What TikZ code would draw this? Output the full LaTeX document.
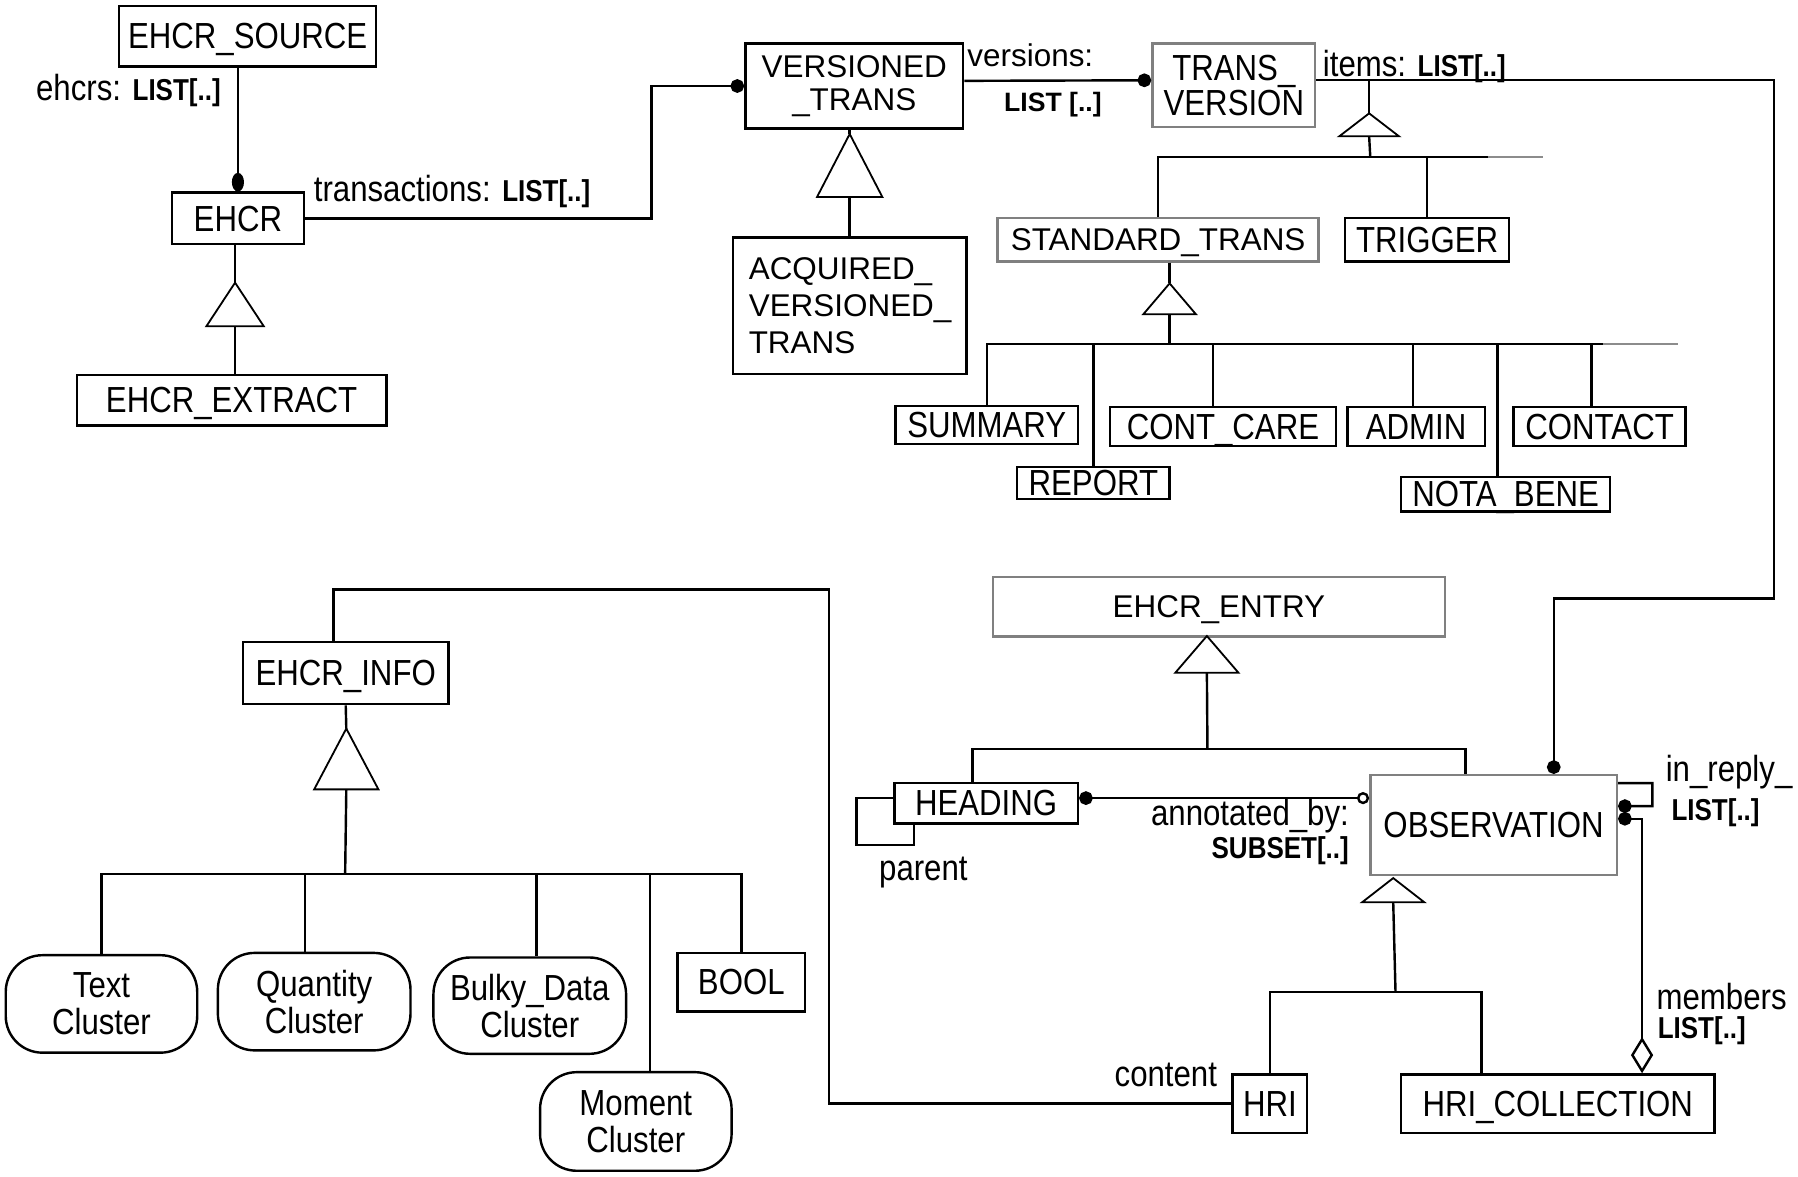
\documentclass[tikz,border=0pt]{standalone}
\usepackage{fontspec}
\setmainfont{Liberation Sans}
\newfontfamily\nf{Liberation Sans}[FakeStretch=0.86]
\usetikzlibrary{arrows.meta,shapes.geometric}

\tikzset{
  cls/.style={draw, line width=0.6pt, inner sep=0pt, align=center,
    font=\nf\fontsize{9}{9.2}\selectfont},
  flat/.style={text depth=0pt},
  pale/.style={cls, draw=black!50},
  wide/.style={font=\rmfamily\fontsize{7.8}{8.3}\selectfont},
  clus/.style={cls, rounded corners=3.2mm},
  gen/.style={draw, isosceles triangle, isosceles triangle stretches,
    shape border rotate=90, inner sep=0pt, outer sep=0pt, line width=0.45pt},
  lbl/.style={inner sep=0pt, font=\nf\fontsize{9}{10}\selectfont},
  conn/.style={line width=0.6pt},
  dot/.style={-{Circle[length=3.4pt]}}
}
\newcommand{\mult}[1]{{\bfseries\fontsize{7.5}{8}\selectfont #1}}

\begin{document}
\begin{tikzpicture}[x=0.1mm, y=-0.1mm]
  \useasboundingbox (0,0) rectangle (1568,1026);

  % record and transactions
  \node[cls, flat, minimum width=22.4mm, minimum height=5.3mm] (src) at (216,31.5) {EHCR\_SOURCE};
  \node[cls, flat, minimum width=11.5mm, minimum height=4.5mm] (ehcr) at (207.5,190.5) {EHCR};
  \node[cls, flat, minimum width=27mm, minimum height=4.4mm] (extract) at (202,349) {EHCR\_EXTRACT};
  \node[gen, minimum width=5mm, minimum height=3.8mm] (g1) at (205,271) {};

  \node[cls, wide, minimum width=19mm, minimum height=7.4mm] (vt) at (745,75) {VERSIONED\\\_TRANS};
  \node[gen, minimum width=5.7mm, minimum height=5.5mm] (g2) at (741,154.5) {};
  \node[cls, wide, font=\rmfamily\fontsize{7.8}{9.1}\selectfont, minimum width=20.4mm,
    minimum height=11.9mm, text width=17.6mm, align=left] (acq) at (741,266.5)
    {ACQUIRED\_\\VERSIONED\_\\TRANS};

  \node[pale, font=\nf\fontsize{9}{8.8}\selectfont, minimum width=14.2mm, minimum height=7.3mm] (tv) at (1076,74.5) {TRANS\_\\VERSION};
  \node[gen, minimum width=5.2mm, minimum height=2mm] (g3) at (1194,110) {};
  \node[pale, wide, flat, minimum width=28mm, minimum height=3.8mm] (st) at (1010,209) {STANDARD\_TRANS};
  \node[cls, flat, minimum width=14.3mm, minimum height=3.8mm] (trig) at (1244.5,209) {TRIGGER};
  \node[gen, minimum width=4.6mm, minimum height=2.7mm] (g4) at (1020,263.5) {};

  \node[cls, flat, minimum width=15.9mm, minimum height=3.3mm] (summ) at (860.5,370.5) {SUMMARY};
  \node[cls, flat, minimum width=13.3mm, minimum height=2.8mm] (rep) at (953.5,421) {REPORT};
  \node[cls, flat, minimum width=19.7mm, minimum height=3.4mm] (cont) at (1066.5,372) {CONT\_CARE};
  \node[cls, flat, minimum width=12mm, minimum height=3.4mm] (adm) at (1235,372) {ADMIN};
  \node[cls, flat, minimum width=15mm, minimum height=3.4mm] (contact) at (1395,372) {CONTACT};
  \node[cls, flat, minimum width=18.2mm, minimum height=3mm] (nb) at (1313,431) {NOTA\_BENE};

  % entries
  \node[pale, wide, flat, minimum width=39.4mm, minimum height=5.2mm] (entry) at (1063,529) {EHCR\_ENTRY};
  \node[gen, minimum width=5.5mm, minimum height=3.2mm] (g5) at (1052.5,574) {};
  \node[cls, flat, minimum width=16mm, minimum height=3.5mm] (head) at (860,700.5) {HEADING};
  \node[pale, flat, minimum width=21.5mm, minimum height=8.7mm] (obs) at (1302.5,719.5) {OBSERVATION};
  \node[gen, minimum width=5.4mm, minimum height=2.1mm] (g6) at (1215,777.5) {};
  \node[cls, flat, minimum width=6.5mm, minimum height=5.1mm] (hri) at (1107.5,962.5) {HRI};
  \node[cls, flat, minimum width=27.3mm, minimum height=5.1mm] (hric) at (1358.5,962.5) {HRI\_COLLECTION};

  % info
  \node[cls, flat, minimum width=17.9mm, minimum height=5.4mm] (info) at (301.5,587) {EHCR\_INFO};
  \node[gen, minimum width=5.6mm, minimum height=5.3mm] (g7) at (302,671.5) {};
  \node[clus, minimum width=16.7mm, minimum height=8.5mm] (textc) at (88.5,875.5) {Text\\Cluster};
  \node[clus, minimum width=16.8mm, minimum height=8.5mm] (qty) at (274,873.5) {Quantity\\Cluster};
  \node[clus, minimum width=16.8mm, minimum height=8.4mm] (bulky) at (462,877) {Bulky\_Data\\Cluster};
  \node[cls, flat, minimum width=11.1mm, minimum height=5.1mm] (bool) at (646.5,856.5) {BOOL};
  \node[clus, minimum width=16.7mm, minimum height=8.6mm] (moment) at (554.5,978) {Moment\\Cluster};

  \coordinate (tvbar) at (1195,137);
  \coordinate (stbar) at (1020,300);
  \coordinate (entbar) at (1053,653);
  \coordinate (obsbar) at (1217,865);
  \coordinate (infobar) at (301,762);

  % connectors
  \draw[conn, -{Circle[length=4.6pt, width=3pt]}] (ehcr.north |- src.south) -- (ehcr.north);
  \draw[conn] (g1.apex |- ehcr.south) -- (g1.apex);
  \draw[conn] (g1.lower side) -- (g1.lower side |- extract.north);
  \draw[conn, dot] (ehcr.east) -| (568,75) -- (vt.west);

  \draw[conn] (g2.apex |- vt.south) -- (g2.apex);
  \draw[conn] (g2.lower side) -- (g2.lower side |- acq.north);
  \draw[conn, dot] ([yshift=0.45mm]vt.east) -- ([yshift=0.45mm]tv.west);
  \draw[conn, dot] ([yshift=0.45mm]tv.east) -| (1547,522) -| ([xshift=5.25mm]obs.north);

  \draw[conn] (g3.apex) -- ++(0,-30);
  \draw[conn] (g3.lower side) -- (tvbar);
  \draw[conn] (st.north) |- (tvbar) -| (trig.north);
  \draw[conn] (trig.north |- tvbar) -- ++(53,0);
  \draw[black!45, line width=0.4pt] (trig.north |- tvbar) ++(53,0) -- ++(48,0);

  \draw[conn] (g4.apex |- st.south) -- (g4.apex);
  \draw[conn] (g4.lower side) -- (stbar);
  \draw[conn] (summ.north) |- (stbar) -| ([xshift=-0.7mm]contact.north);
  \draw[conn] ([xshift=-0.7mm]contact.north |- stbar) -- ++(10,0);
  \draw[black!45, line width=0.4pt] ([xshift=-0.7mm]contact.north |- stbar) ++(10,0) -- ++(65,0);
  \draw[conn] (rep.north |- stbar) -- (rep.north);
  \draw[conn] ([xshift=-0.85mm]cont.north |- stbar) -- ([xshift=-0.85mm]cont.north);
  \draw[conn] ([xshift=-0.3mm]adm.north |- stbar) -- ([xshift=-0.3mm]adm.north);
  \draw[conn] ([xshift=-0.7mm]nb.north |- stbar) -- ([xshift=-0.7mm]nb.north);

  \draw[conn] (g5.lower side) -- (entbar);
  \draw[conn] ([xshift=-1.2mm]head.north) |- (entbar) -| ([xshift=-2.45mm]obs.north);
  \draw[conn, {Circle[length=3.4pt]}-{Circle[open, length=3pt]}]
    ([yshift=0.45mm]head.east) -- ([yshift=0.45mm]head.east -| obs.west);
  \draw[conn] ([yshift=0.45mm]head.west) -| ++(-32,41) -| ([xshift=-6.3mm]head.south);

  \draw[conn, dot] ([yshift=3.65mm]obs.east) -- ++(30,0) -- ++(0,20) -- ([yshift=1.65mm]obs.east);
  \draw[conn, {Circle[length=3.4pt]}-{Diamond[open, length=9pt, width=5.5pt]}]
    ([yshift=0.55mm]obs.east) -| ([xshift=7.35mm]hric.north);
  \draw[conn] (g6.lower side) -- (obsbar);
  \draw[conn] (hri.north) |- (obsbar) -| ([xshift=-6.65mm]hric.north);
  \draw[conn] (hri.west) -| (723,514) -| ([xshift=-1.05mm]info.north);

  \draw[conn] (info.south) -- (g7.apex);
  \draw[conn] (g7.lower side) -- (infobar);
  \draw[conn] (textc.north) |- (infobar) -| (bool.north);
  \draw[conn] ([xshift=-0.8mm]qty.north |- infobar) -- ([xshift=-0.8mm]qty.north);
  \draw[conn] ([xshift=0.6mm]bulky.north |- infobar) -- ([xshift=0.6mm]bulky.north);
  \draw[conn] ([xshift=1.25mm]moment.north |- infobar) -- ([xshift=1.25mm]moment.north);

  % labels
  \node[lbl] (lehcrs) at (112,79) {ehcrs: \mult{LIST[..]}};
  \node[lbl, anchor=west] (ltrans) at (273,167) {transactions: \mult{LIST[..]}};
  \node[lbl, wide, anchor=west] (lvers) at (843,48) {versions:};
  \node[lbl, anchor=west] (lverm) at (875,91) {\rmfamily\bfseries\fontsize{6.6}{7}\selectfont LIST [..]};
  \node[lbl, anchor=west] (litems) at (1153,58) {items: \mult{LIST[..]}};
  \node[lbl, anchor=east] (lann) at (1177,712) {annotated\_by:};
  \node[lbl, anchor=east] (lsub) at (1177,742) {\mult{SUBSET[..]}};
  \node[lbl, anchor=west] (lpar) at (766,761) {parent};
  \node[lbl, anchor=west] (lrep) at (1452,673) {in\_reply\_};
  \node[lbl, anchor=west] (lrepm) at (1457,709) {\mult{LIST[..]}};
  \node[lbl, anchor=west] (lmem) at (1444,869) {members};
  \node[lbl, anchor=west] (lmemm) at (1445,899) {\mult{LIST[..]}};
  \node[lbl, anchor=east] (lcont) at (1062,937) {content};
\end{tikzpicture}
\end{document}
